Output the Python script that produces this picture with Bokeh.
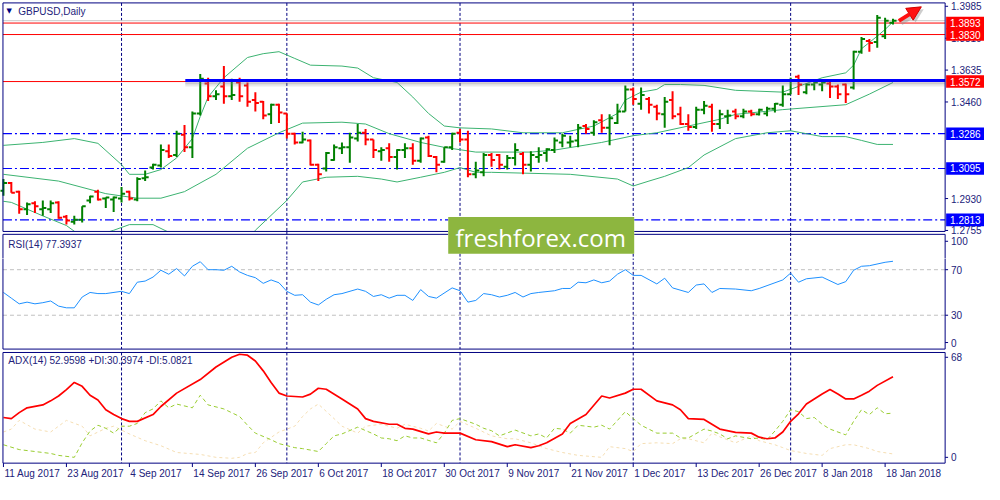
from bokeh.plotting import figure
from bokeh.models import Range1d, ColumnDataSource, Arrow, NormalHead
from bokeh.layouts import column
from bokeh.embed import file_html
from bokeh.resources import INLINE
from bokeh.core.properties import value

# ---------------- data ----------------
symbol_title = "GBPUSD,Daily"
rsi_title = "RSI(14) 77.3937"
adx_title = "ADX(14) 52.9598 +DI:30.3974 -DI:5.0821"

bar_idx = list(range(114))
opens = [1.2973,1.3015,1.2968,1.2872,1.2904,1.2872,1.2872,1.2909,1.2830,1.2803,
 1.2814,1.2920,1.2968,1.2930,1.2925,1.2930,1.2968,1.2925,1.3042,1.3100,
 1.3111,1.3190,1.3169,1.3280,1.3211,1.3397,1.3561,1.3492,1.3545,1.3492,
 1.3567,1.3551,1.3471,1.3461,1.3392,1.3445,1.3397,1.3286,1.3238,1.3249,
 1.3116,1.3095,1.3142,1.3206,1.3211,1.3259,1.3291,1.3254,1.3190,1.3206,
 1.3158,1.3196,1.3206,1.3137,1.3265,1.3158,1.3132,1.3211,1.3291,1.3254,
 1.3063,1.3074,1.3169,1.3169,1.3105,1.3153,1.3174,1.3116,1.3158,1.3180,
 1.3196,1.3238,1.3238,1.3249,1.3328,1.3291,1.3360,1.3318,1.3344,1.3408,
 1.3529,1.3450,1.3476,1.3434,1.3392,1.3471,1.3392,1.3339,1.3323,1.3418,
 1.3434,1.3339,1.3381,1.3408,1.3381,1.3408,1.3392,1.3397,1.3423,1.3445,
 1.3503,1.3598,1.3514,1.3556,1.3556,1.3561,1.3545,1.3556,1.3540,1.3736,
 1.3794,1.3789,1.3821,1.3895]
highs = [1.3037,1.3021,1.2973,1.2909,1.2915,1.2920,1.2920,1.2915,1.2840,1.2835,
 1.2888,1.2946,1.2978,1.2936,1.2941,1.2994,1.2973,1.3047,1.3084,1.3121,
 1.3227,1.3227,1.3302,1.3333,1.3408,1.3614,1.3593,1.3524,1.3657,1.3588,
 1.3593,1.3567,1.3514,1.3466,1.3450,1.3450,1.3397,1.3291,1.3296,1.3254,
 1.3121,1.3185,1.3227,1.3238,1.3291,1.3339,1.3312,1.3254,1.3211,1.3233,
 1.3201,1.3233,1.3233,1.3265,1.3275,1.3164,1.3211,1.3291,1.3312,1.3302,
 1.3132,1.3180,1.3180,1.3174,1.3169,1.3233,1.3185,1.3190,1.3211,1.3206,
 1.3265,1.3286,1.3275,1.3339,1.3339,1.3360,1.3392,1.3392,1.3450,1.3551,
 1.3540,1.3540,1.3487,1.3445,1.3487,1.3519,1.3434,1.3392,1.3434,1.3466,
 1.3450,1.3418,1.3418,1.3423,1.3423,1.3418,1.3423,1.3434,1.3455,1.3551,
 1.3593,1.3609,1.3561,1.3577,1.3582,1.3572,1.3556,1.3561,1.3741,1.3816,
 1.3805,1.3937,1.3922,1.3916]
lows = [1.2946,1.2962,1.2846,1.2840,1.2851,1.2835,1.2851,1.2819,1.2787,1.2787,
 1.2798,1.2904,1.2920,1.2878,1.2856,1.2909,1.2920,1.2915,1.3026,1.3089,
 1.3100,1.3153,1.3158,1.3185,1.3153,1.3386,1.3466,1.3471,1.3450,1.3471,
 1.3461,1.3434,1.3408,1.3365,1.3339,1.3344,1.3259,1.3227,1.3233,1.3111,
 1.3026,1.3079,1.3137,1.3174,1.3127,1.3243,1.3222,1.3153,1.3137,1.3132,
 1.3089,1.3153,1.3116,1.3127,1.3158,1.3074,1.3127,1.3196,1.3238,1.3047,
 1.3042,1.3052,1.3105,1.3089,1.3089,1.3111,1.3063,1.3079,1.3127,1.3132,
 1.3180,1.3211,1.3211,1.3211,1.3286,1.3275,1.3291,1.3222,1.3339,1.3408,
 1.3445,1.3418,1.3397,1.3360,1.3318,1.3365,1.3333,1.3302,1.3312,1.3392,
 1.3296,1.3312,1.3339,1.3365,1.3371,1.3381,1.3386,1.3381,1.3402,1.3434,
 1.3503,1.3498,1.3503,1.3524,1.3519,1.3482,1.3476,1.3455,1.3529,1.3725,
 1.3736,1.3757,1.3805,1.3885]
closes = [1.3015,1.2962,1.2872,1.2899,1.2888,1.2878,1.2904,1.2825,1.2809,1.2814,
 1.2888,1.2941,1.2925,1.2936,1.2936,1.2957,1.2930,1.3037,1.3047,1.3116,
 1.3196,1.3164,1.3286,1.3211,1.3397,1.3588,1.3492,1.3503,1.3492,1.3498,
 1.3492,1.3461,1.3455,1.3386,1.3445,1.3402,1.3286,1.3238,1.3254,1.3116,
 1.3063,1.3180,1.3211,1.3211,1.3265,1.3291,1.3254,1.3196,1.3196,1.3158,
 1.3196,1.3206,1.3137,1.3259,1.3164,1.3116,1.3211,1.3286,1.3254,1.3063,
 1.3084,1.3169,1.3142,1.3116,1.3153,1.3196,1.3116,1.3169,1.3169,1.3201,
 1.3249,1.3275,1.3243,1.3318,1.3312,1.3349,1.3318,1.3371,1.3408,1.3529,
 1.3476,1.3498,1.3445,1.3397,1.3461,1.3381,1.3339,1.3323,1.3418,1.3439,
 1.3339,1.3392,1.3386,1.3381,1.3408,1.3392,1.3418,1.3423,1.3450,1.3503,
 1.3577,1.3556,1.3556,1.3567,1.3567,1.3545,1.3503,1.3503,1.3736,1.3805,
 1.3784,1.3922,1.3906,1.3906]

bb_up_idx = [0,5,9,12,15,16,18,20,22,24,25,26,28,31,33,35,37,39,43,45,47,50,52,54,56,58,
             62,66,71,75,78,79,81,83,84,86,89,93,99,104,107,108,109,111,112,113]
bb_up = [1.3222,1.3238,1.3259,1.3233,1.3116,1.3063,1.3063,1.3089,1.3153,1.3259,1.3381,1.3487,
         1.3593,1.3704,1.3725,1.3736,1.3699,1.3662,1.3657,1.3646,1.3593,1.3567,1.3487,1.3397,
         1.3328,1.3318,1.3312,1.3291,1.3291,1.3328,1.3397,1.3471,1.3514,1.3529,1.3556,1.3556,
         1.3551,1.3524,1.3514,1.3593,1.3620,1.3662,1.3752,1.3821,1.3858,1.3900]
bb_mid_idx = [0,7,13,17,20,23,27,31,35,38,43,46,49,53,56,60,67,70,76,80,83,87,91,93,99,107,110,113]
bb_mid = [1.3063,1.3026,1.2957,1.2932,1.2932,1.2968,1.3063,1.3206,1.3291,1.3344,1.3349,1.3339,
          1.3286,1.3238,1.3211,1.3185,1.3185,1.3196,1.3238,1.3275,1.3291,1.3328,1.3365,1.3392,
          1.3418,1.3445,1.3503,1.3567]
bb_lo_idx = [0,1,5,8,10,12,14,16,19,21,23,27,29,32,36,38,41,45,48,50,53,56,58,60,62,72,78,80,
             82,84,87,89,93,97,100,102,104,107,109,111,113]
bb_lo = [1.2915,1.2909,1.2835,1.2782,1.2719,1.2729,1.2756,1.2787,1.2787,1.2745,1.2650,1.2575,
         1.2612,1.2756,1.2920,1.3021,1.3047,1.3052,1.3037,1.3021,1.3047,1.3074,1.3100,1.3074,
         1.3074,1.3063,1.3037,1.2999,1.3026,1.3052,1.3100,1.3169,1.3259,1.3291,1.3302,1.3286,
         1.3270,1.3270,1.3249,1.3227,1.3227]

rsi_idx = [0,1,2,3,4,5,6,7,8,9,10,11,12,13,15,16,17,18,19,20,21,22,23,24,25,26,27,28,29,30,
           31,32,33,34,35,36,37,38,39,40,41,42,43,45,46,47,48,49,50,51,52,53,54,55,57,58,59,60,
           61,62,63,64,65,66,67,68,70,71,72,73,74,75,76,77,78,79,80,81,83,84,85,87,88,89,90,91,
           93,95,96,97,99,100,101,102,104,106,107,108,109,110,112,113]
rsi_val = [50,45,40,41.5,40,41,42.5,38,36.5,36.5,46,50,49,49,51,49,59,60,63.5,69.5,66,71,64.5,
           73,77,70,70,69.5,73,68,65,63,58,61,58.5,51,47.5,48,41.5,39,44,48,49,53,51,46.5,48,45,
           47.5,47.5,43,52.5,46.5,45,54,51.5,41.5,43,49,48,46,47.5,50,46,49,50,51.5,53.5,53.5,
           59,58.5,61,58.5,60,66,70,65,65,57.5,62.5,54,50,56.5,57.5,50,53.5,53,51.5,53.5,56,61,
           67,59,62,63.5,57,59.5,69.5,73,73.5,76.5,77.4]

adx_idx = [0,1,2,3,5,6,7,8,9,10,11,12,13,14,15,16,17,19,20,22,25,27,29,30,31,32,33,34,35,36,
           38,39,40,41,43,45,46,47,49,50,51,52,54,55,56,58,60,62,64,65,67,68,69,71,72,74,76,77,
           79,80,81,83,85,86,87,89,91,93,95,96,97,98,99,100,101,102,104,105,106,107,108,109,
           110,111,113]
adx_val = [27.7,27,30.7,33.7,35.5,38,41,45,49.4,47,41.5,38.5,32.5,29.5,27,25.3,25.3,29.5,34.5,
           42.8,51.2,59,65,66.9,66.3,62.7,56.6,49.4,42.8,41,40.4,42.2,45.8,45.2,39.2,33,27,25.3,
           23.5,23.5,21,20.5,17.5,18.7,18,18,13.9,12.7,9.6,10.8,9,10.2,12,17.5,24,29.5,41,39.8,
           42.8,45.2,45.2,38,35.5,32.5,27,26.5,20.5,18.5,18,15.5,14.5,15,18.7,25.3,30,36,42.2,
           45,42.2,39.2,39.2,41.5,44,47.6,53]

pdi_idx = [0,2,4,6,7,9,10,11,12,13,14,15,16,17,18,19,20,21,22,24,25,26,28,30,31,32,34,35,37,
           38,40,41,42,43,45,47,48,49,50,51,52,53,55,56,57,58,60,61,62,63,65,67,68,69,70,71,72,
           73,75,76,77,79,80,81,83,85,86,87,89,90,91,92,93,95,96,97,98,99,100,101,102,103,104,
           105,107,108,109,110,111,112,113]
pdi_val = [10.8,7.8,6.6,5.4,4.2,3,12,19.3,22.9,21,18,22.3,22.3,24,30.7,33,38,33.7,36,33.7,41.5,
           35.5,33,28.3,22.9,18,13.9,11.5,9,8.4,6.6,11.5,16.3,17.5,21.7,17.5,15,14.5,13.3,16.3,
           15,15,12,18,25.9,27,23.5,21,19.5,16.3,19.9,16.3,17.5,15,21,20.5,18,22.9,21.7,22.9,
           20.5,31.3,27,22.9,18,18,15,15,20.5,19.3,17.5,14.5,16.3,14.5,15,13.9,19.3,25.3,32.5,
           31.3,27,27.7,23.5,20.5,16.9,25.3,32.5,29.5,33.7,30,30.4]

mdi_idx = [0,1,2,4,6,8,10,11,13,14,16,18,20,22,25,27,29,30,31,32,33,35,37,38,39,40,42,43,45,
           46,48,50,51,53,54,55,57,58,60,62,64,65,67,69,71,73,76,77,79,80,81,83,85,86,87,89,90,
           91,93,95,96,98,99,100,102,104,105,107,108,110,111,113]
mdi_val = [18.7,20.5,25.9,20.5,18.7,25.9,22.3,16.3,21,22.3,17.5,13.3,10.2,6,4.8,3,2.4,3,5.4,6,
           12,18.7,22.3,28.3,33,36,27,22.3,18,22.3,23.5,21,23.5,21,19.3,24,20.5,25.3,21,16.3,
           14.5,14.5,12,8.4,6,4.2,3,9.6,8.4,6.6,11.5,12,11.5,14.5,14.5,12,18,15.7,12,16.3,13.3,
           10.8,9,7.2,5.4,4.2,8.4,10.8,10.8,8.4,6.6,5.1]

red_levels = [1.3893, 1.3830, 1.3572]
blue_levels = [1.3286, 1.3095, 1.2813]
price_ticks = [1.3985, 1.3810, 1.3635, 1.3460, 1.2930, 1.2755]
rsi_levels = [30, 70]
rsi_ticks = [95, 70, 30, 6]
rsi_tick_labels = ["100", "70", "30", "0"]
adx_ticks = [65, 3]
adx_tick_labels = ["68", "0"]
month_starts = [15, 36, 58, 80, 100]
date_idx = [0, 8, 16, 24, 32, 40, 48, 56, 64, 72, 80, 88, 96, 104, 112]
date_labels = ["11 Aug 2017", "23 Aug 2017", "4 Sep 2017", "14 Sep 2017", "26 Sep 2017",
               "6 Oct 2017", "18 Oct 2017", "30 Oct 2017", "9 Nov 2017", "21 Nov 2017",
               "1 Dec 2017", "13 Dec 2017", "26 Dec 2017", "8 Jan 2018", "18 Jan 2018"]
trend_start_idx = 23.1
trend_price = 1.3578
arrow_start = (113.75, 1.3905)
arrow_end = (116.6, 1.3982)
watermark = "freshforex.com"

# ---------------- layout helpers (reference-pixel -> panel units) ----------------
def X(x): return (x - 3) / 8.0
def P(y): return 1.40168 - y / 1886.0
def R(y): return (360.8 - y) / 1.175
def A(y): return (477.0 - y) / 1.662

NAVY = "#000080"
TXT = "#22227a"
FONT = "Liberation Sans"
GREEN_BAR = "#008000"
RED_BAR = "#FF0000"
BB_COL = "#3CB371"
WM_COL = "#8DB63F"
W = 984
SPLIT = 267                     # reference row where the top figure ends
XL, XA, XE = X(2.5), X(960), X(1000)
WM_L, WM_R, WM_T, WM_B = X(455), X(644), 224, 262   # watermark box
xr = Range1d(X(0), XE)


def fig(h, y0, y1):
    return figure(width=W, height=h, x_range=xr, y_range=Range1d(y0, y1),
                  x_axis_type=None, y_axis_type=None, output_backend="svg",
                  toolbar_location=None, min_border=0, min_border_left=0,
                  min_border_right=0, min_border_top=0, min_border_bottom=0,
                  outline_line_color=None, background_fill_color="white",
                  border_fill_color="white")


def texts(p, xs, ys, ss, color=TXT, size="10px", align="left", baseline="middle",
          font=FONT, **kw):
    p.text(x=xs, y=ys, text=ss, text_font=value(font), text_font_size=size,
           text_color=color, text_align=align, text_baseline=baseline, **kw)


def segs(p, x0, y0, x1, y1, color=NAVY, dash="solid", width=1, **kw):
    p.segment(x0=x0, y0=y0, x1=x1, y1=y1, line_color=color, line_dash=dash,
              line_width=width, **kw)


def seps(p, y0, y1, months=None, **kw):
    ms = month_starts if months is None else months
    n = len(ms)
    if n:
        segs(p, ms, [y0] * n, ms, [y1] * n, dash="3 2", **kw)


def hl(p, ys, x0=XL, x1=XA, **kw):
    n = len(ys)
    segs(p, [x0] * n, ys, [x1] * n, ys, **kw)


def hl_gap(p, ys, **kw):
    # horizontal line interrupted where the watermark box sits
    hl(p, ys, XL, WM_L, **kw)
    hl(p, ys, WM_R, XA, **kw)


def vl(p, xs, y0, y1, **kw):
    n = len(xs)
    segs(p, xs, [y0] * n, xs, [y1] * n, **kw)


def axis_labels(p, ys, labels, **kw):
    n = len(ys)
    segs(p, [XA] * n, ys, [X(963)] * n, ys, **kw)
    texts(p, [X(966)] * n, ys, labels, **kw)


in_box = [m for m in month_starts if WM_L <= m <= WM_R]
out_box = [m for m in month_starts if m not in in_box]

# ---------------- top figure: price panel + RSI header ----------------
pA = fig(258, P(SPLIT), P(0))
pA.extra_y_ranges = {"rsi": Range1d(R(SPLIT), R(0))}

seps(pA, P(2.5), P(275), out_box)
seps(pA, P(2.5), P(WM_T), in_box)
seps(pA, P(WM_B), P(275), in_box)
hl(pA, [closes[-1]], color="#C8C8C8")
hl(pA, red_levels, color="#FF0000")
hl(pA, blue_levels[:-1], color="#0000FF", dash="9 3 2 3", width=1.2)
hl_gap(pA, blue_levels[-1:], color="#0000FF", dash="9 3 2 3", width=1.2)

for xs, ys in ((bb_up_idx, bb_up), (bb_mid_idx, bb_mid), (bb_lo_idx, bb_lo)):
    pA.line(xs, ys, line_color=BB_COL, line_width=1)

TL = 0.45
cols = [GREEN_BAR if c >= o else RED_BAR for o, c in zip(opens, closes)]
src = ColumnDataSource(dict(x=bar_idx, o=opens, h=highs, l=lows, c=closes,
                            xl=[i - TL for i in bar_idx], xr=[i + TL for i in bar_idx],
                            col=cols))
pA.segment(x0="x", y0="l", x1="x", y1="h", source=src, line_color="col", line_width=2)
pA.segment(x0="xl", y0="o", x1="x", y1="o", source=src, line_color="col", line_width=2)
pA.segment(x0="x", y0="c", x1="xr", y1="c", source=src, line_color="col", line_width=2)

px = 1 / 1886.0
for k, a in ((2.5, 0.30), (4, 0.22), (5.5, 0.12)):
    hl(pA, [trend_price - k * px], x0=trend_start_idx, color="#808080", width=2, line_alpha=a)
hl(pA, [trend_price], x0=trend_start_idx, color="#0000FF", width=3)

# keep the lower band out of the gap below the main panel
pA.quad(left=[X(-10)], right=[X(300)], top=[P(239)], bottom=[P(290)], fill_color="white",
        line_color=None)
seps(pA, P(239), P(275), [m for m in out_box if m < X(300)])

# panel frames
hl(pA, [P(2.5)])
hl_gap(pA, [P(239)])
vl(pA, [XL, XA], P(239), P(2.5))
hl_gap(pA, [R(242)], y_range_name="rsi")
vl(pA, [XL, XA], R(242), R(275), y_range_name="rsi")

# right axis labels
axis_labels(pA, price_ticks, [f"{t:.4f}" for t in price_ticks])
axis_labels(pA, rsi_ticks[:1], rsi_tick_labels[:1], y_range_name="rsi")

# level boxes on the axis
box_levels = red_levels + blue_levels
box_cols = ["#FF0000"] * len(red_levels) + ["#0000FF"] * len(blue_levels)
hh = 6.5 * px
pA.quad(left=[X(961)] * len(box_levels), right=[XE + 1] * len(box_levels),
        bottom=[v - hh for v in box_levels], top=[v + hh for v in box_levels],
        fill_color=box_cols, line_color=None)
texts(pA, [X(965)] * len(box_levels), box_levels, [f"{v:.4f}" for v in box_levels],
      color="white")

# watermark
pA.quad(left=[WM_L], right=[WM_R], bottom=[P(WM_B)], top=[P(WM_T)], fill_color=WM_COL,
        line_color=None)
texts(pA, [X(549)], [P(245.5)], [watermark], color="white", size="24px", align="center",
      baseline="middle", font="Open Sans")

# arrow
pA.add_layout(Arrow(end=NormalHead(size=14, fill_color="#909090", line_color=None, fill_alpha=0.45),
                    x_start=arrow_start[0] + 0.3, y_start=arrow_start[1] - 2.5 * px,
                    x_end=arrow_end[0] + 0.3, y_end=arrow_end[1] - 2.5 * px,
                    line_color="#909090", line_alpha=0.45, line_width=4))
pA.add_layout(Arrow(end=NormalHead(size=14, fill_color="#FF1010", line_color="#D00000"),
                    x_start=arrow_start[0], y_start=arrow_start[1],
                    x_end=arrow_end[0], y_end=arrow_end[1],
                    line_color="#FF1010", line_width=4))

# titles
texts(pA, [X(6)], [P(11)], ["\u25BC"], color=NAVY, size="7px", font="DejaVu Sans")
texts(pA, [X(18)], [P(11)], [symbol_title])
texts(pA, [X(8)], [R(252)], [rsi_title], y_range_name="rsi")

# ---------------- middle figure: RSI body ----------------
pB = fig(93, R(363), R(SPLIT))
seps(pB, R(255), R(360.5))
hl(pB, rsi_levels, color="#C0C0C0", dash="4 3")
pB.line(rsi_idx, rsi_val, line_color="#1E90FF", line_width=1)
hl(pB, [R(360.5)])
vl(pB, [XL, XA], R(360.5), R(255))
axis_labels(pB, rsi_ticks[1:], rsi_tick_labels[1:])

# ---------------- bottom figure: ADX + dates ----------------
pC = fig(133, A(500), A(363))
seps(pC, A(364), A(478))
pC.line(mdi_idx, mdi_val, line_color="#F5DEB3", line_dash="3 3", line_width=1)
pC.line(pdi_idx, pdi_val, line_color="#9ACD32", line_dash="4 3", line_width=1)
pC.line(adx_idx, adx_val, line_color="#FF0000", line_width=1.7)
hl(pC, [A(364), A(478)])
vl(pC, [XL, XA], A(478), A(364))
axis_labels(pC, adx_ticks, adx_tick_labels)
texts(pC, [X(8)], [A(372)], [adx_title])
nd = len(date_idx)
segs(pC, date_idx, [A(478)] * nd, date_idx, [A(482)] * nd)
texts(pC, [i + 0.12 for i in date_idx], [A(489)] * nd, date_labels)

layout = column(pA, pB, pC)
open("out.html", "w").write(file_html(layout, INLINE))
